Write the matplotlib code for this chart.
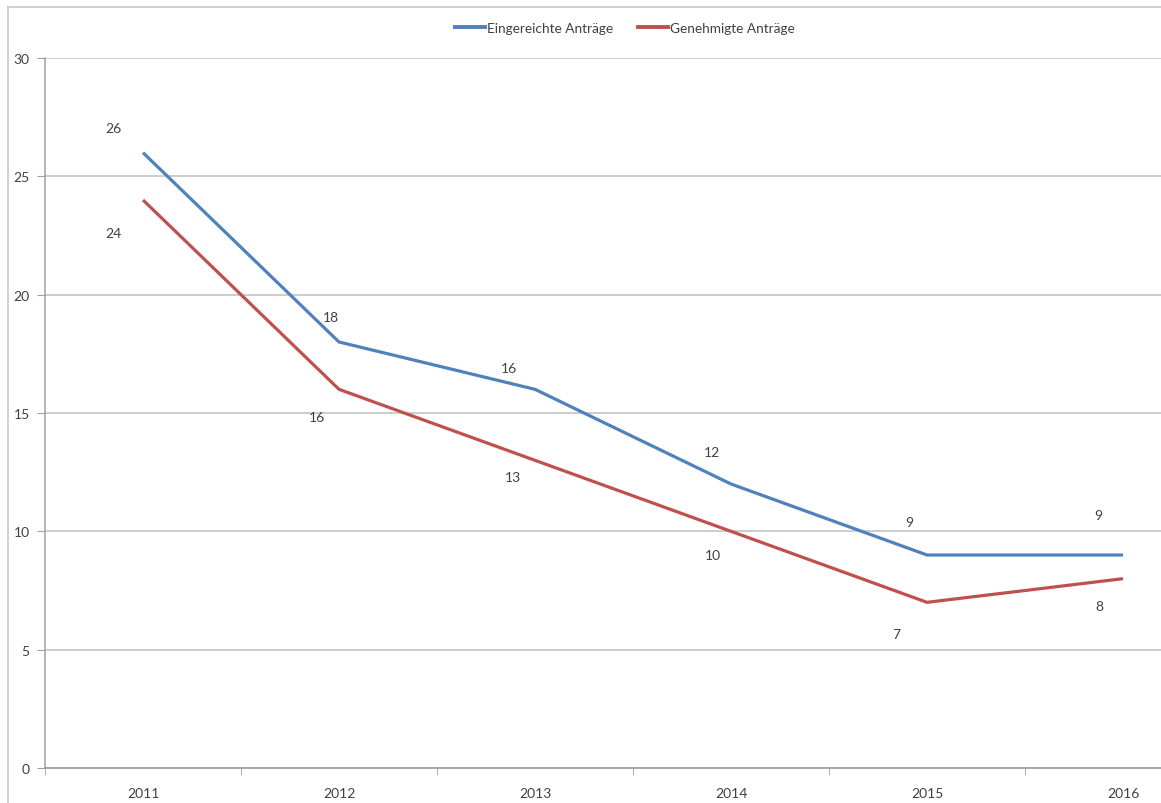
import matplotlib
matplotlib.use("Agg")
import matplotlib.pyplot as plt
from matplotlib.lines import Line2D

years = ["2011", "2012", "2013", "2014", "2015", "2016"]
eingereicht = [26, 18, 16, 12, 9, 9]
genehmigt = [24, 16, 13, 10, 7, 8]
series_names = ["Eingereichte Anträge", "Genehmigte Anträge"]

BLUE = "#4F81BD"
RED = "#C0504D"
GRID = "#BFBFBF"
TEXT = "#404040"

plt.rcParams["font.family"] = ["Lato", "DejaVu Sans"]

W, H = 1161, 804
fig = plt.figure(figsize=(W / 100, H / 100), dpi=100)
fig.patch.set_facecolor("white")

# outer chart frame (left and top edges)
frame_kw = dict(transform=fig.transFigure, color="#C8C8C8", linewidth=1.2)
fig.add_artist(Line2D([8 / W, 8 / W], [0, 1 - 8 / H], **frame_kw))
fig.add_artist(Line2D([8 / W, 1], [1 - 8 / H, 1 - 8 / H], **frame_kw))

ax = fig.add_axes([45 / W, 35 / H, 1176 / W, 710 / H])
ax.set_facecolor("none")
x = list(range(len(years)))

ax.plot(x, eingereicht, color=BLUE, linewidth=2.3, solid_capstyle="butt", zorder=3)
ax.plot(x, genehmigt, color=RED, linewidth=2.3, solid_capstyle="butt", zorder=3)

# data labels
blue_off = [(-30, 25), (-8, 25), (-26, 21), (-19, 32), (-18, 33), (-25, 40)]
red_off = [(-30, -33), (-22, -28), (-22, -17), (-18, -24), (-31, -32), (-24, -27)]
for i, (b, r) in enumerate(zip(eingereicht, genehmigt)):
    ax.annotate(str(b), (i, b), xytext=blue_off[i], textcoords="offset pixels",
                ha="center", va="center", fontsize=10, color=TEXT)
    ax.annotate(str(r), (i, r), xytext=red_off[i], textcoords="offset pixels",
                ha="center", va="center", fontsize=10, color=TEXT)

ax.set_xlim(-0.5, len(years) - 0.5)
ax.set_ylim(0, 30)
ax.set_yticks(range(0, 31, 5))
ax.yaxis.grid(True, color=GRID, linewidth=1.1)
ax.set_axisbelow(True)

ax.set_xticks(x)
ax.set_xticklabels(years)
ax.set_xticks([i + 0.5 for i in range(-1, len(years))], minor=True)
ax.tick_params(axis="x", which="major", length=0, pad=14, labelsize=10, colors=TEXT)
ax.tick_params(axis="x", which="minor", length=5, direction="out", color="#A0A0A0")
ax.tick_params(axis="y", length=6, direction="out", color="#A0A0A0",
               labelsize=10, labelcolor=TEXT, pad=5)

for s in ["top", "right"]:
    ax.spines[s].set_visible(False)
ax.spines["left"].set_color("#A0A0A0")
ax.spines["bottom"].set_color("#A0A0A0")
ax.spines["left"].set_linewidth(1.1)
ax.spines["bottom"].set_linewidth(1.3)

handles = [Line2D([], [], color=BLUE, linewidth=2.8),
           Line2D([], [], color=RED, linewidth=2.8)]
fig.legend(handles, series_names, loc="center", bbox_to_anchor=(625 / W, 1 - 29 / H),
           ncol=2, frameon=False, fontsize=9.8, handlelength=2.2, handletextpad=0.15,
           columnspacing=1.8, labelcolor=TEXT)

fig.savefig("out.png", dpi=100, facecolor="white")
